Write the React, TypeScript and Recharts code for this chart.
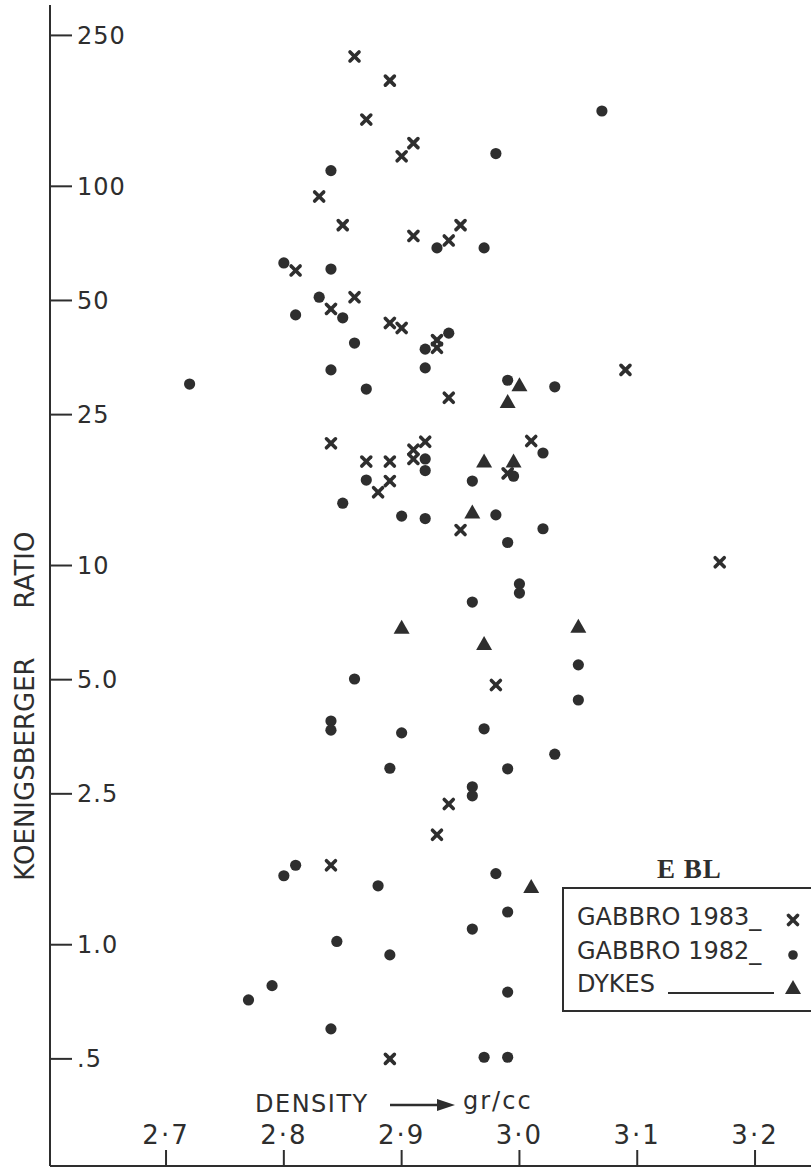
import { Legend, Scatter, ScatterChart, XAxis, YAxis } from "recharts";

// densities (gr/cc) and Koenigsberger ratios
const gabbro1983Density = [
  2.86, 2.89, 2.87, 2.91, 2.9, 2.83, 2.85, 2.91, 2.94, 2.95, 2.81, 2.86, 2.84, 2.89, 2.9, 2.93, 2.93, 3.09,
  2.94, 2.84, 2.92, 2.91, 2.91, 2.87, 2.89, 2.89, 2.88, 3.01, 2.99, 2.95, 3.17, 2.98, 2.94, 2.93, 2.84, 2.89,
];
const gabbro1983Ratio = [
  220, 190, 150, 130, 120, 94, 79, 74, 72, 79, 60, 51, 47.5, 43.6, 42.3, 39.3, 37.5, 32.8,
  27.7, 21, 21.2, 20.2, 19.1, 18.8, 18.8, 16.7, 15.6, 21.3, 17.5, 12.4, 10.2, 4.84, 2.35, 1.95, 1.62, 0.5,
];

const gabbro1982Density = [
  3.07, 2.98, 2.84, 2.8, 2.84, 2.93, 2.97, 2.83, 2.81, 2.85, 2.86, 2.94, 2.92, 2.84, 2.92, 2.72, 2.87, 2.99,
  3.03, 2.92, 2.92, 2.87, 2.96, 2.995, 3.02, 2.85, 2.9, 2.92, 2.98, 3.02, 2.99, 3.0, 3.0, 2.96, 2.86, 3.05,
  3.05, 2.84, 2.84, 2.9, 2.97, 3.03, 2.89, 2.99, 2.96, 2.96, 2.8, 2.81, 2.88, 2.98, 2.99, 2.96, 2.845, 2.89,
  2.99, 2.79, 2.77, 2.84, 2.97, 2.99,
];
const gabbro1982Ratio = [
  158, 122, 110, 62.8, 60.5, 68.8, 68.8, 51, 45.8, 45, 38.6, 41, 37.2, 32.8, 33.2, 30.1, 29.2, 30.8,
  29.6, 19.1, 17.8, 16.8, 16.7, 17.2, 19.8, 14.6, 13.5, 13.3, 13.6, 12.5, 11.5, 8.94, 8.46, 8.01, 5.02, 5.47,
  4.42, 3.89, 3.68, 3.62, 3.71, 3.18, 2.92, 2.91, 2.61, 2.47, 1.52, 1.62, 1.43, 1.54, 1.22, 1.1, 1.02, 0.94,
  0.75, 0.78, 0.715, 0.6, 0.505, 0.505,
];

const dykesDensity = [3.0, 2.99, 2.97, 2.995, 2.96, 2.9, 2.97, 3.05, 3.01];
const dykesRatio = [29.9, 27, 18.8, 18.8, 13.8, 6.85, 6.21, 6.89, 1.42];

const densityTicks = [2.7, 2.8, 2.9, 3.0, 3.1, 3.2];
const ratioTicks = [0.5, 1, 2.5, 5, 10, 25, 50, 100, 250];
const ratioLabels: Record<number, string> = { 0.5: ".5", 1: "1.0", 2.5: "2.5", 5: "5.0", 10: "10", 25: "25", 50: "50", 100: "100", 250: "250" };

const ink = "#2e2e2e";
const font = "'DejaVu Sans', sans-serif";

const zip = (xs: number[], ys: number[]) => xs.map((d, i) => ({ d, k: ys[i] }));

const Cross = (p: any) => {
  const s = 4.5;
  return (
    <g stroke={ink} strokeWidth={3.6} strokeLinecap="round">
      <line x1={p.cx - s} y1={p.cy - s} x2={p.cx + s} y2={p.cy + s} />
      <line x1={p.cx - s} y1={p.cy + s} x2={p.cx + s} y2={p.cy - s} />
    </g>
  );
};
const Dot = (p: any) => <circle cx={p.cx} cy={p.cy} r={5.6} fill={ink} />;
const Tri = (p: any) => (
  <polygon points={`${p.cx},${p.cy - 8} ${p.cx + 8},${p.cy + 6} ${p.cx - 8},${p.cy + 6}`} fill={ink} />
);

function LegendBox() {
  const row = { position: "absolute" as const, left: 15, fontFamily: font, fontSize: 24, color: ink, lineHeight: "24px", whiteSpace: "nowrap" as const };
  return (
    <div style={{ position: "relative", width: 260, height: 170 }}>
      <div style={{ position: "absolute", left: 95, top: 9, fontFamily: "'Liberation Serif', serif", fontWeight: "bold", fontSize: 27, color: ink, letterSpacing: 1 }}>
        E BL
      </div>
      <div style={{ position: "absolute", left: 0, top: 42, width: 270, height: 121, border: `2px solid ${ink}` }} />
      <div style={{ ...row, top: 60 }}>GABBRO 1983_</div>
      <div style={{ ...row, top: 94 }}>GABBRO 1982_</div>
      <div style={{ ...row, top: 127 }}>DYKES</div>
      <svg width={260} height={170} style={{ position: "absolute", left: 0, top: 0 }}>
        <Cross cx={231} cy={75} />
        <circle cx={231} cy={110} r={4.8} fill={ink} />
        <line x1={106} y1={148} x2={212} y2={148} stroke={ink} strokeWidth={2} />
        <Tri cx={231} cy={143} />
      </svg>
    </div>
  );
}

export default function App() {
  return (
    <div style={{ position: "absolute", left: 0, top: 0, width: 811, height: 1168, background: "#fff", overflow: "hidden" }}>
      <ScatterChart width={811} height={1168} margin={{ top: 5, right: 0, bottom: 2, left: 50 }}>
        <XAxis
          type="number"
          dataKey="d"
          domain={[2.6015, 3.2475]}
          allowDataOverflow
          ticks={densityTicks}
          tickFormatter={(v: number) => v.toFixed(1).replace(".", "·")}
          mirror
          tickSize={16}
          tickMargin={6}
          axisLine={{ stroke: ink, strokeWidth: 2 }}
          tickLine={{ stroke: ink, strokeWidth: 2 }}
          tick={{ fill: ink, fontSize: 26, fontFamily: font, letterSpacing: 2 }}
        />
        <YAxis
          type="number"
          dataKey="k"
          scale="log"
          domain={[0.2609, 300.7]}
          allowDataOverflow
          ticks={ratioTicks}
          tickFormatter={(v: number) => ratioLabels[v] ?? String(v)}
          mirror
          tickSize={22}
          tickMargin={5}
          axisLine={{ stroke: ink, strokeWidth: 2 }}
          tickLine={{ stroke: ink, strokeWidth: 2 }}
          tick={{ fill: ink, fontSize: 24, fontFamily: font, letterSpacing: 1 }}
        />
        <Scatter name="GABBRO 1983" data={zip(gabbro1983Density, gabbro1983Ratio)} shape={Cross} isAnimationActive={false} />
        <Scatter name="GABBRO 1982" data={zip(gabbro1982Density, gabbro1982Ratio)} shape={Dot} isAnimationActive={false} />
        <Scatter name="DYKES" data={zip(dykesDensity, dykesRatio)} shape={Tri} isAnimationActive={false} />
        <Legend
          layout="horizontal"
          verticalAlign="middle"
          align="center"
          content={() => <LegendBox />}
          wrapperStyle={{ position: "absolute", left: 562, top: 845, width: 260, height: 170 }}
        />
      </ScatterChart>
      <svg width={811} height={1168} style={{ position: "absolute", left: 0, top: 0, pointerEvents: "none" }}>
        <text x={25} y={769} transform="rotate(-90 25 769)" textAnchor="middle" dominantBaseline="central" fontFamily={font} fontSize={26} fill={ink}>
          KOENIGSBERGER
        </text>
        <text x={25} y={570} transform="rotate(-90 25 570)" textAnchor="middle" dominantBaseline="central" fontFamily={font} fontSize={26} fill={ink}>
          RATIO
        </text>
        <text x={255} y={1104} dominantBaseline="central" fontFamily={font} fontSize={24} letterSpacing={1.5} fill={ink}>
          DENSITY
        </text>
        <line x1={390} y1={1105} x2={440} y2={1105} stroke={ink} strokeWidth={2.5} />
        <polygon points="455,1105 437,1099 437,1111" fill={ink} />
        <text x={463} y={1101} dominantBaseline="central" fontFamily={font} fontSize={24} letterSpacing={2} fill={ink}>
          gr/cc
        </text>
      </svg>
    </div>
  );
}
